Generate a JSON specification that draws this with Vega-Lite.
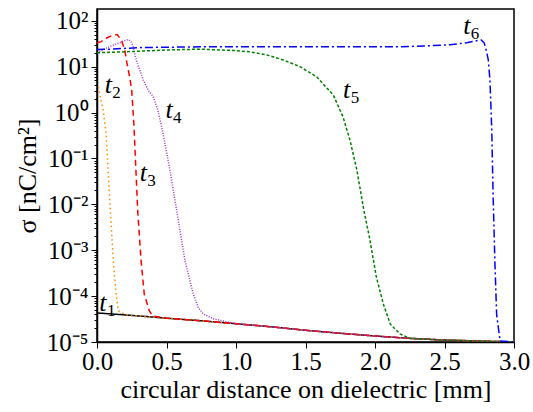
{
  "$schema": "https://vega.github.io/schema/vega-lite/v6.json",
  "width": 417,
  "height": 333,
  "autosize": "none",
  "padding": {"left": 97, "top": 9, "right": 19, "bottom": 70},
  "background": "white",
  "config": {
    "view": {"stroke": "black", "strokeWidth": 1.5},
    "font": "'Liberation Serif', 'Times New Roman', Times, serif"
  },
  "datasets": {
    "curves": [
      {"s":"t1","x":0,"y":4.3e-5},{"s":"t1","x":0.25,"y":3.8e-5},{"s":"t1","x":0.5,"y":3.3e-5},{"s":"t1","x":0.75,"y":2.9e-5},{"s":"t1","x":1.0,"y":2.5e-5},{"s":"t1","x":1.25,"y":2.15e-5},{"s":"t1","x":1.5,"y":1.8e-5},{"s":"t1","x":1.75,"y":1.55e-5},{"s":"t1","x":2.0,"y":1.35e-5},{"s":"t1","x":2.25,"y":1.2e-5},{"s":"t1","x":2.5,"y":1.1e-5},{"s":"t1","x":2.75,"y":1.05e-5},{"s":"t1","x":3.0,"y":1.0e-5},

      {"s":"t2","x":0.01,"y":3.6},{"s":"t2","x":0.03,"y":1.8},{"s":"t2","x":0.045,"y":1.1},{"s":"t2","x":0.065,"y":0.35},{"s":"t2","x":0.08,"y":0.055},{"s":"t2","x":0.1,"y":4.5e-3},{"s":"t2","x":0.117,"y":5.9e-4},{"s":"t2","x":0.137,"y":1.1e-4},{"s":"t2","x":0.153,"y":4.8e-5},{"s":"t2","x":0.2,"y":4.0e-5},{"s":"t2","x":0.25,"y":3.8e-5},{"s":"t2","x":0.5,"y":3.3e-5},{"s":"t2","x":0.75,"y":2.9e-5},{"s":"t2","x":1.0,"y":2.5e-5},{"s":"t2","x":1.25,"y":2.15e-5},{"s":"t2","x":1.5,"y":1.8e-5},{"s":"t2","x":1.75,"y":1.55e-5},{"s":"t2","x":2.0,"y":1.35e-5},{"s":"t2","x":2.25,"y":1.2e-5},{"s":"t2","x":2.5,"y":1.1e-5},{"s":"t2","x":2.75,"y":1.05e-5},{"s":"t2","x":3.0,"y":1.0e-5},

      {"s":"t3","x":0,"y":33},{"s":"t3","x":0.03,"y":35},{"s":"t3","x":0.07,"y":42},{"s":"t3","x":0.11,"y":48},{"s":"t3","x":0.145,"y":50},{"s":"t3","x":0.175,"y":38},{"s":"t3","x":0.2,"y":23},{"s":"t3","x":0.215,"y":12},{"s":"t3","x":0.235,"y":6},{"s":"t3","x":0.25,"y":3},{"s":"t3","x":0.266,"y":0.5},{"s":"t3","x":0.28,"y":0.055},{"s":"t3","x":0.293,"y":7e-3},{"s":"t3","x":0.317,"y":6e-4},{"s":"t3","x":0.34,"y":1.1e-4},{"s":"t3","x":0.376,"y":4.8e-5},{"s":"t3","x":0.4,"y":3.7e-5},{"s":"t3","x":0.5,"y":3.3e-5},{"s":"t3","x":0.75,"y":2.9e-5},{"s":"t3","x":1.0,"y":2.5e-5},{"s":"t3","x":1.25,"y":2.15e-5},{"s":"t3","x":1.5,"y":1.8e-5},{"s":"t3","x":1.75,"y":1.55e-5},{"s":"t3","x":2.0,"y":1.35e-5},{"s":"t3","x":2.25,"y":1.2e-5},{"s":"t3","x":2.5,"y":1.1e-5},{"s":"t3","x":2.75,"y":1.05e-5},{"s":"t3","x":3.0,"y":1.0e-5},

      {"s":"t4","x":0,"y":20},{"s":"t4","x":0.05,"y":24},{"s":"t4","x":0.1,"y":28},{"s":"t4","x":0.15,"y":32},{"s":"t4","x":0.2,"y":37},{"s":"t4","x":0.225,"y":39},{"s":"t4","x":0.245,"y":35},{"s":"t4","x":0.26,"y":27},{"s":"t4","x":0.275,"y":17},{"s":"t4","x":0.29,"y":12},{"s":"t4","x":0.333,"y":5.1},{"s":"t4","x":0.37,"y":3},{"s":"t4","x":0.405,"y":2.2},{"s":"t4","x":0.435,"y":1.2},{"s":"t4","x":0.465,"y":0.49},{"s":"t4","x":0.495,"y":0.17},{"s":"t4","x":0.525,"y":0.055},{"s":"t4","x":0.573,"y":7.4e-3},{"s":"t4","x":0.633,"y":5.9e-4},{"s":"t4","x":0.693,"y":1.1e-4},{"s":"t4","x":0.73,"y":5.5e-5},{"s":"t4","x":0.765,"y":4.1e-5},{"s":"t4","x":0.837,"y":3.2e-5},{"s":"t4","x":1.0,"y":2.5e-5},{"s":"t4","x":1.25,"y":2.15e-5},{"s":"t4","x":1.5,"y":1.8e-5},{"s":"t4","x":1.75,"y":1.55e-5},{"s":"t4","x":2.0,"y":1.35e-5},{"s":"t4","x":2.25,"y":1.2e-5},{"s":"t4","x":2.5,"y":1.1e-5},{"s":"t4","x":2.75,"y":1.05e-5},{"s":"t4","x":3.0,"y":1.0e-5},

      {"s":"t5","x":0,"y":20},{"s":"t5","x":0.2,"y":21},{"s":"t5","x":0.5,"y":23},{"s":"t5","x":0.74,"y":24},{"s":"t5","x":0.98,"y":22.5},{"s":"t5","x":1.1,"y":21},{"s":"t5","x":1.22,"y":18},{"s":"t5","x":1.34,"y":14},{"s":"t5","x":1.46,"y":10},{"s":"t5","x":1.58,"y":6},{"s":"t5","x":1.7,"y":2.4},{"s":"t5","x":1.77,"y":0.8},{"s":"t5","x":1.82,"y":0.25},{"s":"t5","x":1.87,"y":0.055},{"s":"t5","x":1.92,"y":7.4e-3},{"s":"t5","x":1.96,"y":1.9e-3},{"s":"t5","x":2.01,"y":2.6e-4},{"s":"t5","x":2.06,"y":6.7e-5},{"s":"t5","x":2.11,"y":2.45e-5},{"s":"t5","x":2.18,"y":1.5e-5},{"s":"t5","x":2.25,"y":1.2e-5},{"s":"t5","x":2.5,"y":1.1e-5},{"s":"t5","x":2.75,"y":1.05e-5},{"s":"t5","x":3.0,"y":1.0e-5},

      {"s":"t6","x":0,"y":23.5},{"s":"t6","x":0.1,"y":24},{"s":"t6","x":0.3,"y":26},{"s":"t6","x":0.74,"y":27},{"s":"t6","x":1.5,"y":27},{"s":"t6","x":2.18,"y":27},{"s":"t6","x":2.4,"y":28.5},{"s":"t6","x":2.54,"y":30},{"s":"t6","x":2.66,"y":33},{"s":"t6","x":2.74,"y":37},{"s":"t6","x":2.765,"y":38},{"s":"t6","x":2.785,"y":33},{"s":"t6","x":2.8,"y":23},{"s":"t6","x":2.815,"y":14},{"s":"t6","x":2.827,"y":5.1},{"s":"t6","x":2.84,"y":0.42},{"s":"t6","x":2.85,"y":0.0145},{"s":"t6","x":2.863,"y":5e-4},{"s":"t6","x":2.875,"y":4e-5},{"s":"t6","x":2.9,"y":1.05e-5},{"s":"t6","x":3.0,"y":1.01e-5}
    ],
    "labels": [
      {"n":"1","x":0.043,"y":7.1e-5},
      {"n":"2","x":0.081,"y":4.0},
      {"n":"3","x":0.333,"y":0.047},
      {"n":"4","x":0.518,"y":1.13},
      {"n":"5","x":1.796,"y":3.1},
      {"n":"6","x":2.66,"y":76}
    ]
  },
  "layer": [
    {
      "data": {"name": "curves"},
      "mark": {"type": "line", "strokeWidth": 1.5, "clip": true},
      "encoding": {
        "x": {
          "field": "x", "type": "quantitative",
          "scale": {"domain": [0, 3], "nice": false, "zero": false},
          "axis": {
            "title": "circular distance on dielectric [mm]",
            "titleFont": "'Liberation Serif', 'Times New Roman', Times, serif", "titleFontSize": 26, "titleFontWeight": "normal", "titleColor": "black", "titlePadding": 2,
            "labelFont": "'Liberation Serif', 'Times New Roman', Times, serif", "labelFontSize": 25, "labelColor": "black", "labelPadding": 1,
            "values": [0,0.25,0.5,0.75,1.0,1.25,1.5,1.75,2.0,2.25,2.5,2.75,3.0],
            "labelExpr": "abs(datum.value*2 - round(datum.value*2)) < 0.001 ? format(datum.value, '.1f') : ''",
            "tickSize": {"condition": {"test": "abs(datum.value*2 - round(datum.value*2)) < 0.001", "value": 6}, "value": 3},
            "tickColor": "black", "domainColor": "black", "domainWidth": 1.5, "tickWidth": 1,
            "grid": false, "labelOverlap": false, "labelFlush": false
          }
        },
        "y": {
          "field": "y", "type": "quantitative",
          "scale": {"type": "log", "domain": [1e-5, 180], "nice": false},
          "axis": {
            "title": "σ [nC/cm²]",
            "titleFont": "'Liberation Serif', 'Times New Roman', Times, serif", "titleFontSize": 26, "titleFontWeight": "normal", "titleColor": "black", "titlePadding": 6,
            "labelFont": "'Liberation Serif', 'Times New Roman', Times, serif", "labelFontSize": 25, "labelColor": "black", "labelPadding": 3,
            "values": [1e-5,2e-5,3e-5,4e-5,5e-5,6e-5,7e-5,8e-5,9e-5,1e-4,2e-4,3e-4,4e-4,5e-4,6e-4,7e-4,8e-4,9e-4,1e-3,2e-3,3e-3,4e-3,5e-3,6e-3,7e-3,8e-3,9e-3,1e-2,2e-2,3e-2,4e-2,5e-2,6e-2,7e-2,8e-2,9e-2,0.1,0.2,0.3,0.4,0.5,0.6,0.7,0.8,0.9,1,2,3,4,5,6,7,8,9,10,20,30,40,50,60,70,80,90,100],
            "labelExpr": "abs(log(datum.value)/LN10 - round(log(datum.value)/LN10)) < 0.001 ? '10' + replace(replace(replace(replace(replace(replace(replace(replace('' + round(log(datum.value)/LN10), '-', '⁻'), '0', '⁰'), '1', '¹'), '2', '²'), '3', '³'), '4', '⁴'), '5', '⁵'), '6', '⁶') : ''",
            "tickSize": {"condition": {"test": "abs(log(datum.value)/LN10 - round(log(datum.value)/LN10)) < 0.001", "value": 6}, "value": 3},
            "tickColor": "black", "domainColor": "black", "domainWidth": 1.5, "tickWidth": 1,
            "grid": false, "labelOverlap": false, "labelFlush": false
          }
        },
        "color": {
          "field": "s", "type": "nominal", "legend": null,
          "scale": {"domain": ["t1","t2","t3","t4","t5","t6"], "range": ["#000000","#FF8C00","#FF0000","#9932CC","#008000","#0000FF"]}
        },
        "strokeDash": {
          "field": "s", "type": "nominal", "legend": null,
          "scale": {"domain": ["t1","t2","t3","t4","t5","t6"], "range": [[1,0],[1.5,3],[6,4],[1,1.5],[3,2],[8,3,2,3]]}
        },
        "order": {"field": "x", "type": "quantitative"}
      }
    },
    {
      "data": {"name": "labels"},
      "mark": {"type": "text", "text": "t", "font": "'Liberation Serif', 'Times New Roman', Times, serif", "fontStyle": "italic", "fontSize": 26, "align": "center", "baseline": "middle", "color": "black"},
      "encoding": {
        "x": {"field": "x", "type": "quantitative"},
        "y": {"field": "y", "type": "quantitative"}
      }
    },
    {
      "data": {"name": "labels"},
      "mark": {"type": "text", "font": "'Liberation Serif', 'Times New Roman', Times, serif", "fontSize": 17, "align": "left", "baseline": "middle", "dx": 4, "dy": 8, "color": "black"},
      "encoding": {
        "x": {"field": "x", "type": "quantitative"},
        "y": {"field": "y", "type": "quantitative"},
        "text": {"field": "n"}
      }
    }
  ]
}
